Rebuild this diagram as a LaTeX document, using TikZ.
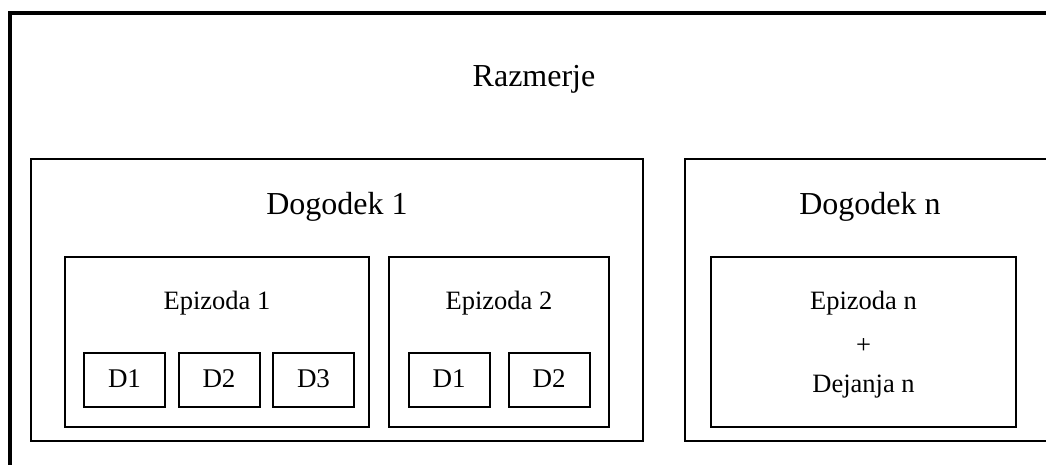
\documentclass[tikz,border=0pt]{standalone}
\usepackage{fontspec}
\setmainfont{Liberation Serif}
\begin{document}
\begin{tikzpicture}[x=1pt,y=-1pt,
  box/.style={draw=black, line width=2pt, rectangle, inner sep=0pt, outer sep=0pt},
  big/.style={font=\fontsize{32}{36}\selectfont, anchor=base, inner sep=0pt},
  mid/.style={font=\fontsize{26.5}{30}\selectfont, anchor=base, inner sep=0pt},
  small/.style={font=\fontsize{27}{30}\selectfont, anchor=base, inner sep=0pt}]
\useasboundingbox (0,0) rectangle (1046,464);
\clip (0,0) rectangle (1046,464);
\fill[white] (0,0) rectangle (1046,464);
% outer frame
\node[box, line width=4pt, minimum width=1060pt, minimum height=480pt, anchor=north west] (frame) at (9.5,13) {};
\node[big] (razmerje) at (534,86) {Razmerje};
% Dogodek boxes
\node[box, minimum width=612pt, minimum height=282pt] (dog1) at (337,300) {};
\node[box, minimum width=370pt, minimum height=282pt] (dogn) at (870,300) {};
\node[big] (dog1t) at (337,214) {Dogodek 1};
\node[big] (dognt) at (870,214) {Dogodek n};
% Epizoda boxes
\node[box, minimum width=304pt, minimum height=170pt] (ep1) at (217,342) {};
\node[box, minimum width=220pt, minimum height=170pt] (ep2) at (499,342) {};
\node[box, minimum width=305pt, minimum height=170pt] (epn) at (863.5,342) {};
\node[mid] (ep1t) at (217,309) {Epizoda 1};
\node[mid] (ep2t) at (499,309) {Epizoda 2};
\node[mid] (epnt) at (863.5,309) {Epizoda n};
\node[mid] (plus) at (863.5,353) {+};
\node[mid] (dejt) at (863.5,392) {Dejanja n};
% D boxes
\node[box, minimum width=81pt, minimum height=54pt] (a1) at (124.5,380) {};
\node[box, minimum width=81pt, minimum height=54pt] (a2) at (219,380) {};
\node[box, minimum width=81pt, minimum height=54pt] (a3) at (313.5,380) {};
\node[box, minimum width=81pt, minimum height=54pt] (b1) at (449,380) {};
\node[box, minimum width=81pt, minimum height=54pt] (b2) at (549,380) {};
\node[small] (a1t) at (124.5,387) {D1};
\node[small] (a2t) at (219,387) {D2};
\node[small] (a3t) at (313.5,387) {D3};
\node[small] (b1t) at (449,387) {D1};
\node[small] (b2t) at (549,387) {D2};
\end{tikzpicture}
\end{document}
